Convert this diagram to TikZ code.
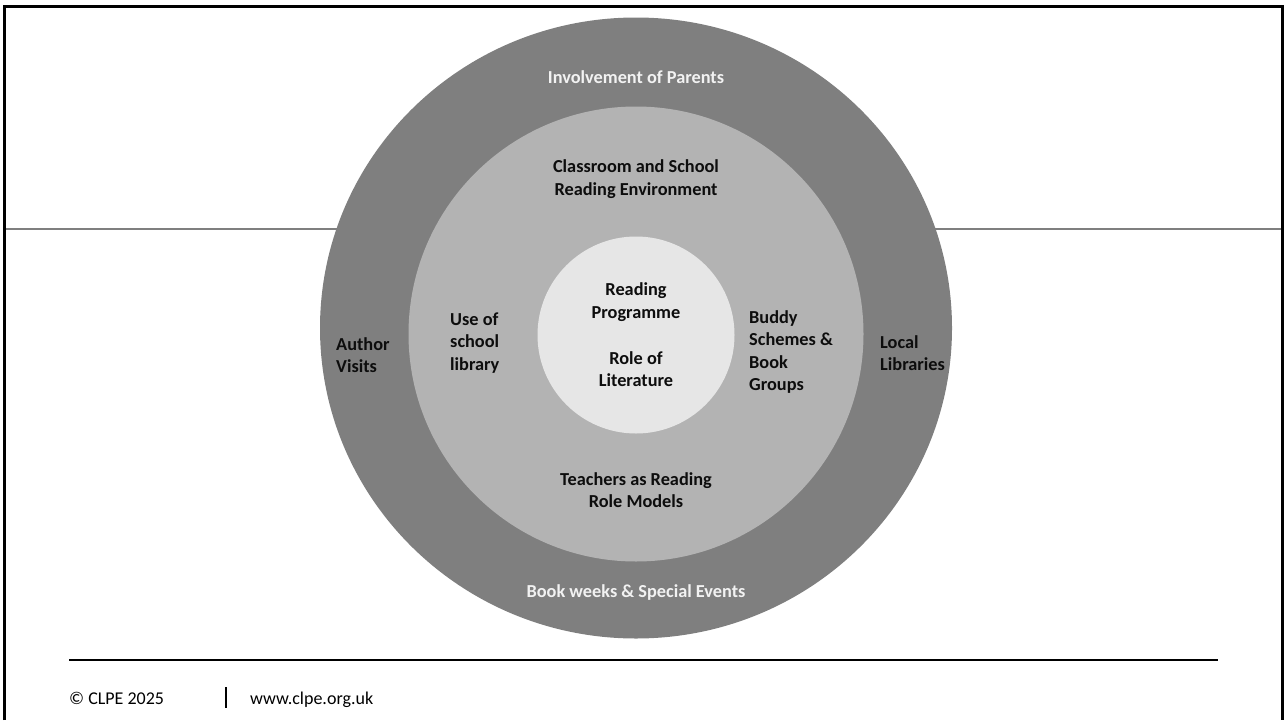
\documentclass[tikz,border=0pt]{standalone}
\usepackage{fontspec}
\setmainfont{Carlito}
\usepackage{tikz}
\usetikzlibrary{shapes.geometric}
\definecolor{ringout}{HTML}{7F7F7F}
\definecolor{ringmid}{HTML}{B3B3B3}
\definecolor{ringin}{HTML}{E6E6E6}
\definecolor{inktext}{HTML}{0D0D0D}
\definecolor{palet}{HTML}{F2F2F2}
\tikzset{
  ring/.style={draw=none, inner sep=0pt},
  lbl/.style={font=\fontsize{18.3}{22.5}\selectfont\bfseries, text=inktext, align=center, inner sep=0pt},
  lbll/.style={lbl, align=left, anchor=west},
  lblw/.style={lbl, text=palet},
  foot/.style={font=\fontsize{18}{20}\selectfont, text=black, anchor=base west, inner sep=0pt}
}
\begin{document}
\begin{tikzpicture}[x=1pt, y=-1pt]
  \useasboundingbox (0,0) rectangle (1284,720);
  % frame and divider
  \draw[ringout, line width=1.2pt] (4,229) -- (1282,229);
  \draw[black, line width=3pt] (4,720) -- (4,6) -- (1282,6) -- (1282,720);

  % rings
  \node[ring, ellipse, fill=ringout, minimum width=632pt, minimum height=621pt] (outer) at (636,328) {};
  \node[ring, circle, fill=ringmid, minimum size=455pt] (mid) at (636,334) {};
  \node[ring, circle, fill=ringin, minimum size=197pt] (core) at (636,335) {};

  % outer ring labels
  \node[lblw] (parents) at (636,77) {Involvement of Parents};
  \node[lblw] (events) at (636,593) {Book weeks \& Special Events};
  \node[lbll] (author) at (336,355) {Author\\Visits};
  \node[lbll] (local) at (880,353) {Local\\Libraries};

  % middle ring labels
  \node[lbl] (classroom) at (636,179) {Classroom and School\\Reading Environment};
  \node[lbl] (teachers) at (636,490) {Teachers as Reading\\Role Models};
  \node[lbll] (library) at (450,343) {Use of\\school\\library};
  \node[lbll] (buddy) at (749,352) {Buddy\\Schemes \&\\Book\\Groups};

  % core labels
  \node[lbl] (programme) at (636,302) {Reading\\Programme};
  \node[lbl] (literature) at (636,369) {Role of\\Literature};

  % footer
  \draw[black, line width=2pt] (69,660) -- (1218,660);
  \node[foot] (copy) at (69,704) {© CLPE 2025};
  \coordinate (bartop) at (226,687);
  \coordinate (barbot) at (226,708);
  \draw[black, line width=1.5pt] (bartop) -- (barbot);
  \node[foot] (web) at (250,704) {www.clpe.org.uk};
\end{tikzpicture}
\end{document}
